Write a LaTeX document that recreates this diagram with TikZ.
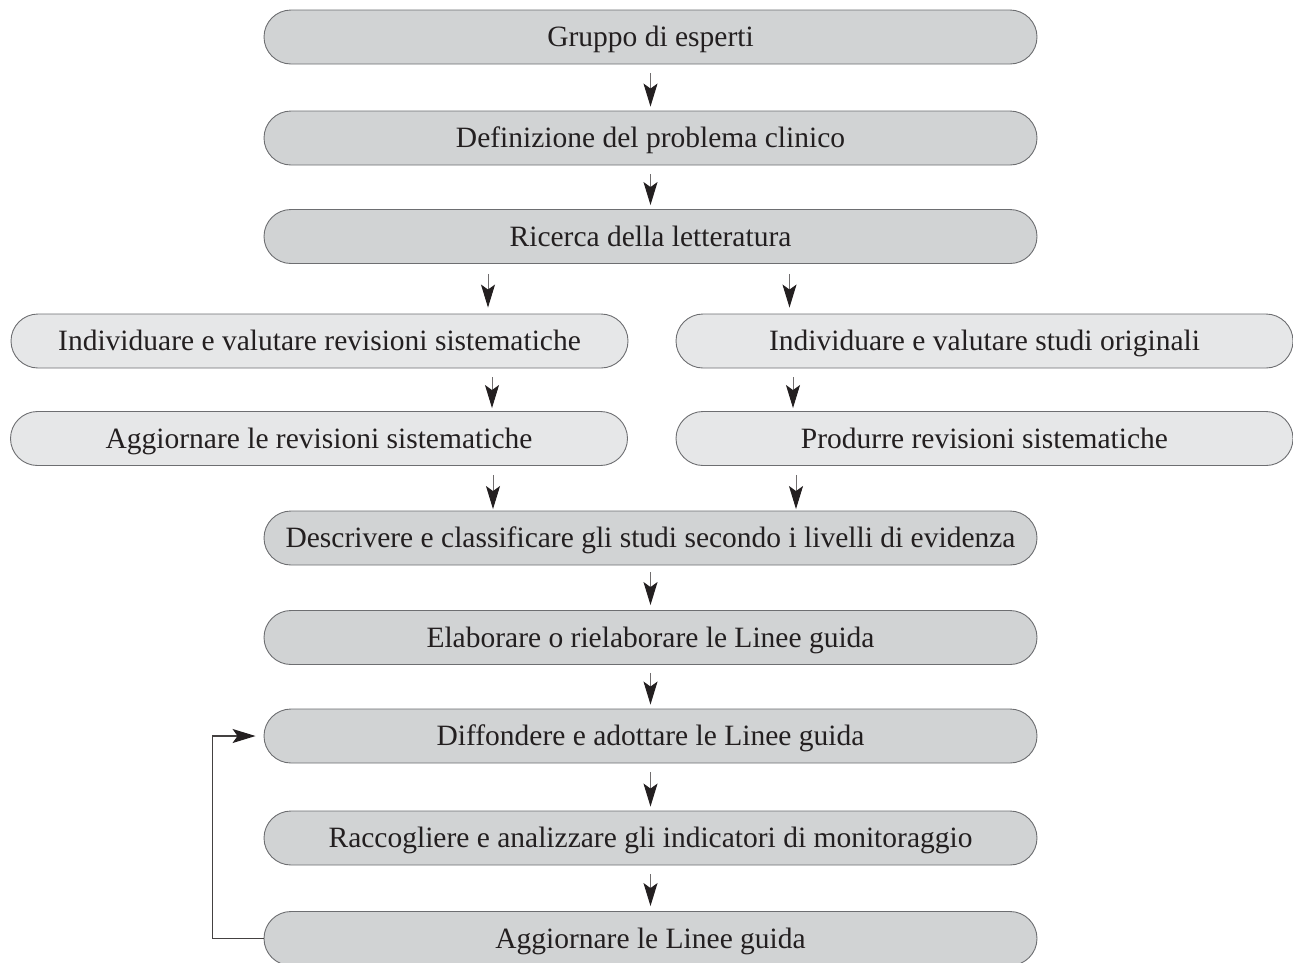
\documentclass[tikz,border=0pt]{standalone}
\usepackage{fontspec}
\setmainfont{Liberation Serif}
\usetikzlibrary{arrows.meta,calc}
\definecolor{mainfill}{HTML}{D1D3D4}
\definecolor{sidefill}{HTML}{E6E7E8}
\definecolor{edge}{HTML}{6D6E71}
\definecolor{ink}{HTML}{231F20}
\begin{document}
\begin{tikzpicture}[x=1pt,y=-1pt,
  box/.style={draw=edge,line width=0.9pt,rounded corners=27pt,minimum height=54pt,inner sep=0pt,
    font=\fontsize{29.5}{34}\selectfont,text=ink,text height=19.5pt,text depth=0pt},
  mainbox/.style={box,fill=mainfill,minimum width=773pt},
  sidebox/.style={box,fill=sidefill,minimum width=617pt},
  arr/.style={draw=ink!65,line width=1pt,-{Stealth[length=23pt,width=14pt,inset=5pt,color=ink]}}]
\useasboundingbox (0,0) rectangle (1293,962);
\node[mainbox] (n1) at (650.5,37) {Gruppo di esperti};
\node[mainbox] (n2) at (650.5,138) {Definizione del problema clinico};
\node[mainbox] (n3) at (650.5,236.5) {Ricerca della letteratura};
\node[sidebox] (n4l) at (319.5,341) {Individuare e valutare revisioni sistematiche};
\node[sidebox] (n4r) at (984.5,341) {Individuare e valutare studi originali};
\node[sidebox] (n5l) at (319,438.5) {Aggiornare le revisioni sistematiche};
\node[sidebox] (n5r) at (984.5,438.5) {Produrre revisioni sistematiche};
\node[mainbox] (n6) at (650.5,538) {Descrivere e classificare gli studi secondo i livelli di evidenza};
\node[mainbox] (n7) at (650.5,637.5) {Elaborare o rielaborare le Linee guida};
\node[mainbox] (n8) at (650.5,736) {Diffondere e adottare le Linee guida};
\node[mainbox] (n9) at (650.5,838) {Raccogliere e analizzare gli indicatori di monitoraggio};
\node[mainbox] (n10) at (650.5,938.5) {Aggiornare le Linee guida};

\draw[arr,shorten <=9pt,shorten >=4pt] (n1.south) -- (n2.north);
\draw[arr,shorten <=9pt,shorten >=4pt] (n2.south) -- (n3.north);
\draw[arr,shorten <=10pt,shorten >=6pt] ([xshift=-162.5pt]n3.south) -- ([xshift=168.5pt]n4l.north);
\draw[arr,shorten <=10pt,shorten >=6pt] ([xshift=139pt]n3.south) -- ([xshift=-195pt]n4r.north);
\draw[arr,shorten <=9pt,shorten >=3pt] ([xshift=172.5pt]n4l.south) -- ([xshift=173pt]n5l.north);
\draw[arr,shorten <=9pt,shorten >=3pt] ([xshift=-191.5pt]n4r.south) -- ([xshift=-191.5pt]n5r.north);
\draw[arr,shorten <=9pt,shorten >=1.5pt] ([xshift=174pt]n5l.south) -- ([xshift=-157.5pt]n6.north);
\draw[arr,shorten <=9pt,shorten >=1.5pt] ([xshift=-188.5pt]n5r.south) -- ([xshift=145.5pt]n6.north);
\draw[arr,shorten <=7pt,shorten >=5pt] (n6.south) -- (n7.north);
\draw[arr,shorten <=8pt,shorten >=4pt] (n7.south) -- (n8.north);
\draw[arr,shorten <=9pt,shorten >=4pt] (n8.south) -- (n9.north);
\draw[arr,shorten <=9pt,shorten >=5pt] (n9.south) -- (n10.north);
\draw[arr,draw=ink!85,line width=1.3pt,shorten >=8pt] (n10.west) -- ++(-51,0) |- (n8.west);
\end{tikzpicture}
\end{document}
